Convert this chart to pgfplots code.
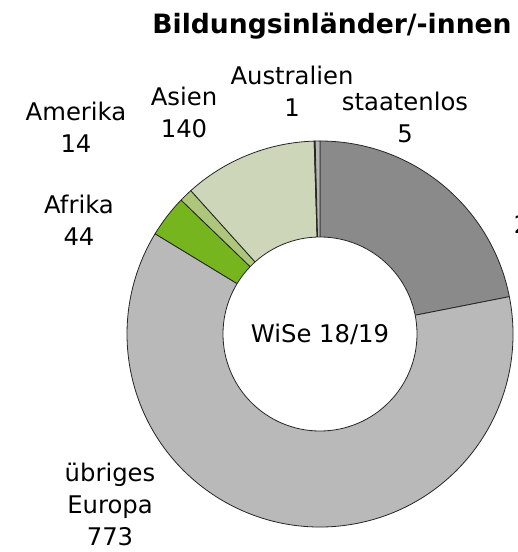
\documentclass[border=0pt]{standalone}
\usepackage{pgfplots}
\pgfplotsset{compat=1.18}
\usepackage{pgfplotstable}
\usepackage{fontspec}
\setmainfont{DejaVu Sans}
\definecolor{cD}{HTML}{8A8A8B}
\definecolor{cE}{HTML}{B9B9B9}
\definecolor{cAf}{HTML}{76B51E}
\definecolor{cAm}{HTML}{AEC67C}
\definecolor{cAs}{HTML}{CED6B9}
\definecolor{cAu}{HTML}{404040}
\definecolor{cS}{HTML}{B5B5B5}
\tikzset{lbl/.style={font=\fontsize{24.3}{32}\selectfont, align=center, inner sep=0pt}}
\pgfplotstableread[col sep=comma]{
name,value,color
EU,274,cD
übriges Europa,773,cE
Afrika,44,cAf
Amerika,14,cAm
Asien,140,cAs
Australien,1,cAu
staatenlos,5,cS
}\slices
\begin{document}
\begin{tikzpicture}
\path[use as bounding box] (0,0) rectangle (518pt,552pt);
\clip (0,0) rectangle (518pt,552pt);
\begin{axis}[at={(0,0)}, anchor=south west, scale only axis,
  width=518pt, height=552pt, xmin=0, xmax=518, ymin=0, ymax=552,
  hide axis, clip=false]
\def\cum{0}
\pgfplotsforeachungrouped \i in {0,...,6}{%
  \pgfplotstablegetelem{\i}{value}\of\slices \let\sliceVal\pgfplotsretval
  \pgfplotstablegetelem{\i}{color}\of\slices \let\sliceCol\pgfplotsretval
  \pgfmathsetmacro\aone{90-\cum/1251*360}%
  \pgfmathsetmacro\cum{\cum+\sliceVal}%
  \pgfmathsetmacro\atwo{90-\cum/1251*360}%
  \edef\cmd{\noexpand\filldraw[fill=\sliceCol, draw=black!85, line width=0.8pt, line join=round] (axis cs:320,218) -- ++(\aone:193pt) arc[start angle=\aone, end angle=\atwo, radius=193pt] -- cycle;}%
  \cmd
}
\filldraw[fill=white, draw=black!85, line width=0.8pt] (axis cs:320,218) circle[radius=97pt];
\node[lbl] at (axis cs:320,218) {WiSe 18/19};
\node[lbl, font=\fontsize{26.6}{32}\selectfont\bfseries] at (axis cs:332,526) {Bildungsinländer/-innen};
\node[lbl] at (axis cs:76,424.5) {Amerika\\14};
\node[lbl] at (axis cs:184,439.5) {Asien\\140};
\node[lbl] at (axis cs:292,461) {Australien\\1};
\node[lbl] at (axis cs:405,434.5) {staatenlos\\5};
\node[lbl] at (axis cs:79,332) {Afrika\\44};
\node[lbl] at (axis cs:110,48) {übriges\\Europa\\773};
\node[lbl] at (axis cs:537,343) {EU\\274};
\end{axis}
\end{tikzpicture}
\end{document}
